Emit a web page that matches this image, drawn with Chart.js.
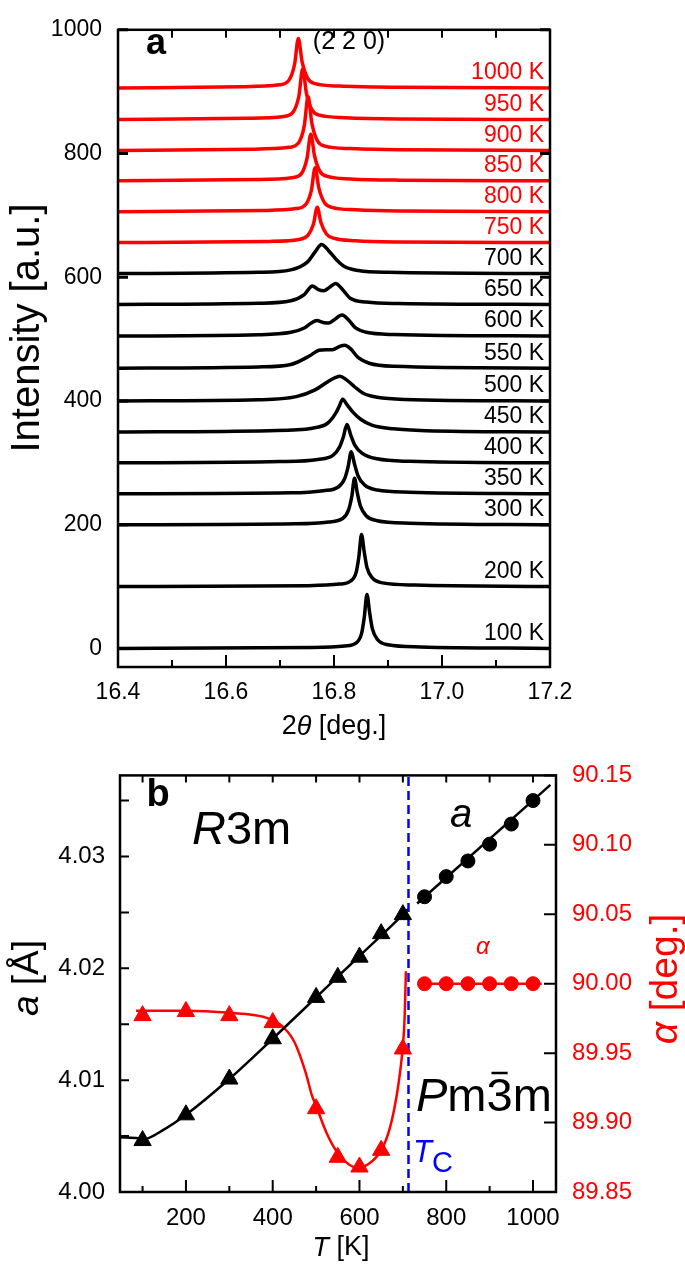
<!DOCTYPE html>
<html>
<head>
<meta charset="utf-8">
<script src="https://cdn.jsdelivr.net/npm/chart.js@4.4.1/dist/chart.umd.min.js"></script>
<style>
  html, body { margin: 0; padding: 0; background: #fff; }
  #wrap { position: relative; width: 685px; height: 1271px; }
  canvas { position: absolute; left: 0; }
  #chartA { top: 0; }
  #chartB { top: 745px; }
</style>
</head>
<body>
<div id="wrap">
  <canvas id="chartA" width="685" height="745"></canvas>
  <canvas id="chartB" width="685" height="526"></canvas>
</div>
<script>
/* ---------- panel a: (2 2 0) scans, points are [2theta, intensity above baseline] ---------- */
const temps = [100, 200, 300, 350, 400, 450, 500, 550, 600, 650, 700, 750, 800, 850, 900, 950, 1000];
const offsets = [0, 100, 200, 250, 300, 350, 400, 453, 505, 556, 606, 656, 706, 756, 805, 855, 906];

const scan100 = [[16.40,0],[16.76,1.5],[16.82,4],[16.841,9],[16.851,24],[16.856,50],[16.861,87],[16.866,58],[16.871,32],[16.881,14],[16.90,6],[16.96,2.5],[17.20,0]];
const scan200 = [[16.40,0],[16.75,1.5],[16.81,4],[16.831,9],[16.841,23],[16.846,48],[16.851,84],[16.856,56],[16.861,31],[16.871,14],[16.89,6],[16.95,2.5],[17.20,0]];
const scan300 = [[16.40,0],[16.73,1.5],[16.79,4.5],[16.816,10],[16.827,24],[16.833,46],[16.838,75],[16.843,52],[16.849,30],[16.86,14],[16.88,6.5],[16.94,2.5],[17.20,0]];
const scan350 = [[16.40,0],[16.72,1.5],[16.78,5],[16.808,11],[16.82,25],[16.826,43],[16.832,68],[16.838,48],[16.845,28],[16.857,14],[16.88,6],[16.94,2.5],[17.20,0]];
const scan400 = [[16.40,0],[16.70,2],[16.77,5.5],[16.798,12],[16.81,25],[16.817,41],[16.824,62],[16.831,45],[16.839,28],[16.853,15],[16.88,6.5],[16.94,2.5],[17.20,0]];
const scan450 = [[16.40,0],[16.68,2],[16.76,6],[16.788,14],[16.803,30],[16.81,42],[16.816,53],[16.824,44],[16.835,32],[16.85,20],[16.87,11],[16.91,5],[16.97,2],[17.20,0]];
const scan500 = [[16.40,0],[16.66,2],[16.73,7],[16.765,18],[16.79,32],[16.803,38],[16.811,40],[16.822,35],[16.838,23],[16.855,12],[16.88,6],[16.93,2.5],[17.20,0]];
const scan550 = [[16.40,0],[16.66,2],[16.72,6],[16.755,20],[16.772,29],[16.785,30],[16.797,30],[16.81,35],[16.82,37],[16.83,32],[16.845,17],[16.865,8],[16.91,3],[17.20,0]];
const scan600 = [[16.40,0],[16.66,2],[16.72,6],[16.745,13],[16.758,21],[16.768,25],[16.78,22],[16.79,21],[16.80,26],[16.815,34],[16.827,26],[16.84,13],[16.86,6],[16.91,2.5],[17.20,0]];
const scan650 = [[16.40,0],[16.66,2],[16.72,6],[16.745,16],[16.76,30],[16.771,24],[16.781,22],[16.792,28],[16.803,34],[16.815,25],[16.83,10],[16.86,4],[16.92,1.5],[17.20,0]];
const scan700 = [[16.40,0],[16.66,2],[16.72,6],[16.75,18],[16.765,35],[16.777,47],[16.79,37],[16.805,22],[16.82,11],[16.845,5],[16.90,2],[17.20,0]];
const scan750 = [[16.40,0],[16.68,2],[16.735,5],[16.752,12],[16.762,30],[16.769,57],[16.776,32],[16.786,14],[16.80,7],[16.84,3],[16.92,1],[17.20,0]];
const scan800 = [[16.40,0],[16.67,2],[16.73,5],[16.748,12],[16.758,34],[16.765,71],[16.772,38],[16.782,15],[16.796,7],[16.84,3],[16.92,1],[17.20,0]];
const scan850 = [[16.40,0],[16.66,2],[16.722,5],[16.74,12],[16.75,36],[16.757,75],[16.764,40],[16.774,15],[16.788,7],[16.83,3],[16.92,1],[17.20,0]];
const scan900 = [[16.40,0],[16.65,2],[16.717,5],[16.735,13],[16.745,40],[16.752,87],[16.759,44],[16.769,16],[16.783,7],[16.83,3],[16.92,1],[17.20,0]];
const scan950 = [[16.40,0],[16.64,2],[16.707,5],[16.725,13],[16.735,38],[16.742,82],[16.749,42],[16.759,16],[16.773,7],[16.82,3],[16.92,1],[17.20,0]];
const scan1000 = [[16.40,0],[16.63,2],[16.699,5],[16.717,13],[16.727,38],[16.734,80],[16.741,42],[16.751,16],[16.765,7],[16.81,3],[16.92,1],[17.20,0]];
const scans = [scan100, scan200, scan300, scan350, scan400, scan450, scan500, scan550, scan600,
               scan650, scan700, scan750, scan800, scan850, scan900, scan950, scan1000];

const xTicksA = [16.4, 16.6, 16.8, 17.0, 17.2];
const xMinorA = [16.5, 16.7, 16.9, 17.1];
const yTicksA = [0, 200, 400, 600, 800, 1000];

/* ---------- panel b: lattice parameter a and angle alpha vs T ---------- */
const tTri = [100, 200, 300, 400, 500, 550, 600, 650, 700];
const aTri = [4.0046, 4.0069, 4.0101, 4.0137, 4.0174, 4.0192, 4.0210, 4.0231, 4.0248];
const alphaTri = [89.977, 89.980, 89.977, 89.972, 89.910, 89.875, 89.868, 89.880, 89.953];
const tCirc = [750, 800, 850, 900, 950, 1000];
const aCirc = [4.0264, 4.0282, 4.0296, 4.0311, 4.0329, 4.0350];
const alphaCirc = [90.00, 90.00, 90.00, 90.00, 90.00, 90.00];

// fit curves
const aFitT = [50, 90, 100, 150, 200, 300, 400, 500, 600, 700, 712];
const aFit = [4.0049, 4.0048, 4.0047, 4.0056, 4.0069, 4.0101, 4.0137, 4.0174, 4.0211, 4.0248, 4.0253];
const aCubT = [733, 1040];
const aCub = [4.0258, 4.0364];
const alphaFitT = [85, 200, 300, 380, 420, 450, 476, 490, 500, 525, 550, 575, 595, 620, 650, 670, 685, 695, 700, 704, 707];
const alphaFit = [89.9805, 89.9805, 89.979, 89.976, 89.970, 89.958, 89.936, 89.920, 89.912, 89.892, 89.878, 89.870,
                  89.8675, 89.870, 89.880, 89.896, 89.918, 89.940, 89.955, 89.975, 90.009];
const alphaCubT = [738, 1020];
const alphaCub = [90.00, 90.00];
const tc = 713;

const tTicks = [200, 400, 600, 800, 1000];
const tMinor = [100, 300, 500, 700, 900];
const aTicks = [4.00, 4.01, 4.02, 4.03];
const aMinor = [4.005, 4.015, 4.025, 4.035];
const alphaTicks = [89.85, 89.90, 89.95, 90.00, 90.05, 90.10, 90.15];

const T_MIN = 48, T_MAX = 1053;
const A_MIN = 4.00, A_MAX = 4.03725;
const AL_MIN = 89.85, AL_MAX = 90.15;

const F = "'Liberation Sans', Arial, sans-serif";
const RED = '#ff0000';
const BLUE = '#0000ff';

function rich(ctx, parts, x, y, align) {
  let w = 0;
  parts.forEach(p => { ctx.font = p.font; p.w = ctx.measureText(p.t).width; w += p.w; });
  let cx = align === 'center' ? x - w / 2 : align === 'right' ? x - w : x;
  ctx.textAlign = 'left';
  parts.forEach(p => {
    ctx.font = p.font;
    ctx.fillStyle = p.color || '#000';
    ctx.fillText(p.t, cx + (p.dx || 0), y + (p.dy || 0));
    p.x = cx;
    cx += p.w;
  });
  return parts;
}

function ticksX(ctx, scale, vals, yEdge, len) {
  vals.forEach(v => {
    const px = scale.getPixelForValue(v);
    ctx.moveTo(px, yEdge);
    ctx.lineTo(px, yEdge + len);
  });
}
function ticksY(ctx, scale, vals, xEdge, len) {
  vals.forEach(v => {
    const py = scale.getPixelForValue(v);
    ctx.moveTo(xEdge, py);
    ctx.lineTo(xEdge + len, py);
  });
}

/* ---------- chart a ---------- */
const panelA = {
  id: 'panelA',
  afterDraw(chart) {
    const { ctx, chartArea: ca } = chart;
    const x = chart.scales.x, y = chart.scales.y;
    ctx.save();
    ctx.strokeStyle = '#000';
    ctx.lineWidth = 2.5;
    ctx.strokeRect(ca.left, ca.top, ca.right - ca.left, ca.bottom - ca.top);

    ctx.lineWidth = 2;
    ctx.beginPath();
    ticksX(ctx, x, xTicksA, ca.bottom, -12);
    ticksX(ctx, x, xMinorA, ca.bottom, -7);
    ticksX(ctx, x, xTicksA, ca.top, 8);
    ticksX(ctx, x, xMinorA, ca.top, 8);
    ctx.stroke();
    ctx.lineWidth = 3;
    ctx.beginPath();
    ticksY(ctx, y, yTicksA, ca.left, 10);
    ticksY(ctx, y, yTicksA, ca.right, -10);
    ctx.stroke();

    // temperature labels
    ctx.textBaseline = 'middle';
    temps.forEach((t, i) => {
      rich(ctx, [{ t: t + ' K', font: '23px ' + F, color: t >= 750 ? RED : '#000' }],
           544, y.getPixelForValue(offsets[i]) - 15, 'right');
    });

    rich(ctx, [{ t: 'a', font: 'bold 36px ' + F }], 156, 44, 'center');
    rich(ctx, [{ t: '(2 2 0)', font: '25px ' + F }], 349, 42, 'center');
    rich(ctx, [{ t: '2', font: '27px ' + F }, { t: 'θ', font: 'italic 27px ' + F }, { t: ' [deg.]', font: '27px ' + F }],
         334, 727, 'center');

    ctx.translate(28, 328);
    ctx.rotate(-Math.PI / 2);
    rich(ctx, [{ t: 'Intensity [a.u.]', font: '40px ' + F }], 0, 0, 'center');
    ctx.restore();
  }
};

new Chart(document.getElementById('chartA'), {
  type: 'line',
  data: {
    datasets: scans.map((s, i) => ({
      data: s.map(p => ({ x: p[0], y: p[1] + offsets[i] })),
      borderColor: temps[i] >= 750 ? RED : '#000',
      borderWidth: 3.5,
      pointRadius: 0,
      cubicInterpolationMode: 'monotone',
      fill: false
    }))
  },
  options: {
    responsive: false,
    animation: false,
    devicePixelRatio: 1,
    layout: { padding: { top: 13, right: 135, left: 0, bottom: 0 } },
    plugins: { legend: { display: false }, tooltip: { enabled: false } },
    scales: {
      x: {
        type: 'linear', min: 16.4, max: 17.2,
        grid: { display: false, drawTicks: false }, border: { display: false },
        afterBuildTicks: s => { s.ticks = xTicksA.map(v => ({ value: v })); },
        afterFit: s => { s.height = 78; },
        ticks: { callback: v => v.toFixed(1), font: { family: F, size: 23 }, color: '#000', padding: 12, maxRotation: 0, autoSkip: false }
      },
      y: {
        type: 'linear', min: -30, max: 1000,
        grid: { display: false, drawTicks: false }, border: { display: false },
        afterBuildTicks: s => { s.ticks = yTicksA.map(v => ({ value: v })); },
        afterFit: s => { s.width = 118; },
        ticks: { callback: v => String(v), font: { family: F, size: 23 }, color: '#000', padding: 16, autoSkip: false }
      }
    }
  },
  plugins: [panelA]
});

/* ---------- chart b ---------- */
const panelB = {
  id: 'panelB',
  afterDraw(chart) {
    const { ctx, chartArea: ca } = chart;
    const x = chart.scales.x, y = chart.scales.y, y2 = chart.scales.y2;
    ctx.save();
    ctx.strokeStyle = '#000';
    ctx.lineWidth = 2.5;
    ctx.strokeRect(ca.left, ca.top, ca.right - ca.left, ca.bottom - ca.top);

    ctx.lineWidth = 2;
    ctx.beginPath();
    ticksX(ctx, x, tTicks, ca.bottom, -12);
    ticksX(ctx, x, tMinor, ca.bottom, -6);
    ticksX(ctx, x, tTicks, ca.top, 7);
    ticksX(ctx, x, tMinor, ca.top, 7);
    ticksY(ctx, y, aTicks, ca.left, 9);
    ticksY(ctx, y, aMinor, ca.left, 9);
    ticksY(ctx, y2, alphaTicks, ca.right, -12);
    ctx.stroke();

    ctx.textBaseline = 'alphabetic';
    rich(ctx, [{ t: 'b', font: 'bold 38px ' + F }], 158, 61, 'center');
    rich(ctx, [{ t: 'R', font: 'italic 47px ' + F }, { t: '3m', font: '47px ' + F }], 192, 99, 'left');
    rich(ctx, [{ t: 'a', font: 'italic 40px ' + F }], 450, 82, 'left');
    rich(ctx, [{ t: 'α', font: 'italic 24px ' + F, color: RED }], 476, 209, 'left');
    const pm = rich(ctx, [{ t: 'P', font: 'italic 47px ' + F }, { t: 'm', font: '47px ' + F },
                          { t: '3', font: '47px ' + F }, { t: 'm', font: '47px ' + F }], 416, 366, 'left');
    ctx.beginPath();
    ctx.lineWidth = 2.5;
    ctx.moveTo(pm[2].x + 5, 328);
    ctx.lineTo(pm[2].x + pm[2].w - 5, 328);
    ctx.stroke();
    rich(ctx, [{ t: 'T', font: 'italic 31px ' + F, color: BLUE }, { t: 'C', font: '29px ' + F, color: BLUE, dy: 10 }],
         413, 417, 'left');

    ctx.textBaseline = 'middle';
    rich(ctx, [{ t: 'T', font: 'italic 27px ' + F }, { t: ' [K]', font: '27px ' + F }], 341, 503, 'center');

    ctx.save();
    ctx.translate(28, 233);
    ctx.rotate(-Math.PI / 2);
    rich(ctx, [{ t: 'a', font: 'italic 37px ' + F }, { t: ' [Å]', font: '37px ' + F }], 0, 0, 'center');
    ctx.restore();

    ctx.translate(666, 234);
    ctx.rotate(-Math.PI / 2);
    rich(ctx, [{ t: 'α', font: 'italic 39px ' + F, color: RED }, { t: ' [deg.]', font: '39px ' + F, color: RED }], 0, 0, 'center');
    ctx.restore();
  }
};

const pts = (xs, ys) => xs.map((v, i) => ({ x: v, y: ys[i] }));

new Chart(document.getElementById('chartB'), {
  type: 'line',
  data: {
    datasets: [
      { data: pts(tTri, aTri), yAxisID: 'y', showLine: false, pointStyle: 'triangle', pointRadius: 10,
        pointBackgroundColor: '#000', pointBorderColor: '#000', pointBorderWidth: 1 },
      { data: pts(tCirc, aCirc), yAxisID: 'y', showLine: false, pointStyle: 'circle', pointRadius: 7,
        pointBackgroundColor: '#000', pointBorderColor: '#000', pointBorderWidth: 1 },
      { data: pts(tTri, alphaTri), yAxisID: 'y2', showLine: false, pointStyle: 'triangle', pointRadius: 10,
        pointBackgroundColor: RED, pointBorderColor: RED, pointBorderWidth: 1 },
      { data: pts(tCirc, alphaCirc), yAxisID: 'y2', showLine: false, pointStyle: 'circle', pointRadius: 7,
        pointBackgroundColor: RED, pointBorderColor: RED, pointBorderWidth: 1 },
      { data: [{ x: tc, y: A_MIN }, { x: tc, y: A_MAX }], yAxisID: 'y', borderColor: BLUE, borderWidth: 2.5,
        borderDash: [9, 5], pointRadius: 0 },
      { data: pts(aFitT, aFit), yAxisID: 'y', borderColor: '#000', borderWidth: 2.5, pointRadius: 0,
        cubicInterpolationMode: 'monotone' },
      { data: pts(aCubT, aCub), yAxisID: 'y', borderColor: '#000', borderWidth: 2.5, pointRadius: 0 },
      { data: pts(alphaFitT, alphaFit), yAxisID: 'y2', borderColor: RED, borderWidth: 2.5, pointRadius: 0,
        cubicInterpolationMode: 'monotone' },
      { data: pts(alphaCubT, alphaCub), yAxisID: 'y2', borderColor: RED, borderWidth: 2.5, pointRadius: 0 }
    ]
  },
  options: {
    responsive: false,
    animation: false,
    devicePixelRatio: 1,
    layout: { padding: { top: 13, right: 0, left: 0, bottom: 0 } },
    plugins: { legend: { display: false }, tooltip: { enabled: false } },
    scales: {
      x: {
        type: 'linear', min: T_MIN, max: T_MAX,
        grid: { display: false, drawTicks: false }, border: { display: false },
        afterBuildTicks: s => { s.ticks = tTicks.map(v => ({ value: v })); },
        afterFit: s => { s.height = 79; },
        ticks: { callback: v => String(v), font: { family: F, size: 24 }, color: '#000', padding: 12, maxRotation: 0, autoSkip: false }
      },
      y: {
        type: 'linear', position: 'left', min: A_MIN, max: A_MAX,
        grid: { display: false, drawTicks: false }, border: { display: false },
        afterBuildTicks: s => { s.ticks = aTicks.map(v => ({ value: v })); },
        afterFit: s => { s.width = 120; },
        ticks: { callback: v => v.toFixed(2), font: { family: F, size: 24 }, color: '#000', padding: 15, autoSkip: false }
      },
      y2: {
        type: 'linear', position: 'right', min: AL_MIN, max: AL_MAX,
        grid: { display: false, drawTicks: false }, border: { display: false },
        afterBuildTicks: s => { s.ticks = alphaTicks.map(v => ({ value: v })); },
        afterFit: s => { s.width = 129; },
        ticks: { callback: v => v.toFixed(2), font: { family: F, size: 24 }, color: RED, padding: 16, autoSkip: false }
      }
    }
  },
  plugins: [panelB]
});
</script>
</body>
</html>
